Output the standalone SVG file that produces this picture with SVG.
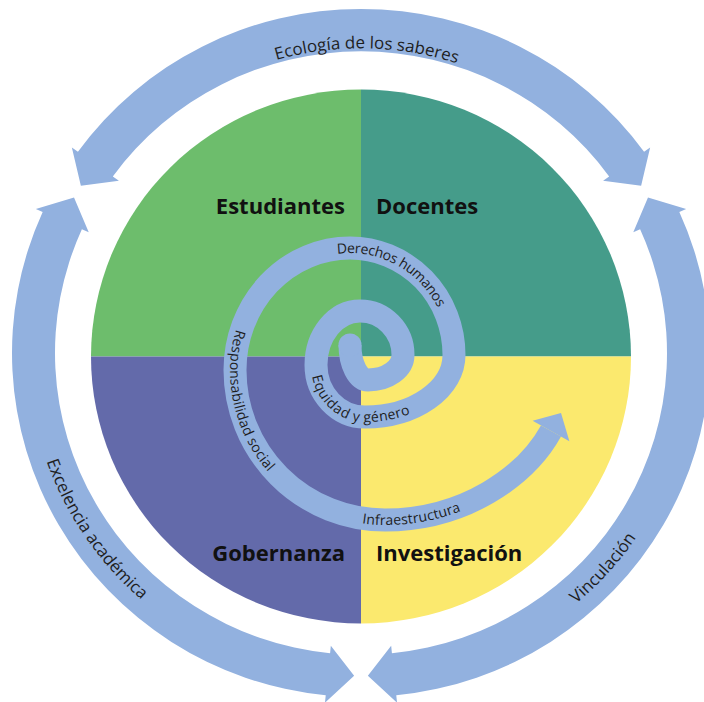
<svg xmlns="http://www.w3.org/2000/svg" xmlns:xlink="http://www.w3.org/1999/xlink" width="704" height="702" viewBox="0 0 704 702">
<style>
.blue{fill:#92b1df}
.rt{font-family:"Open Sans","Liberation Sans",sans-serif;font-size:17px;fill:#1e1e1e}
.q{font-family:"Open Sans","Liberation Sans",sans-serif;font-size:22px;font-weight:700;fill:#111}
.st{font-family:"Open Sans","Liberation Sans",sans-serif;font-size:14px;fill:#1e1e1e}
</style>
<defs>
<path id="tpTop" d="M -232.86 -203.14 A 309 309 0 0 1 240.46 -194.05"/>
<path id="tpLeft" d="M -332.19 23.23 A 333 333 0 0 0 -145.98 299.30"/>
<path id="tpRight" d="M 166.5 288.39 A 333 333 0 0 0 304.21 135.44"/>
<path id="tpDer" d="M 235 370 A 115 122 0 0 1 350 248 A 104 107 0 0 1 454 355"/>
<path id="tpRes" d="M 350 248 A 115 122 0 0 0 235 370 A 150 150 0 0 0 385 520"/>
<path id="tpEq" d="M 360 311 A 44 54 0 0 0 316 365 A 49 52 0 0 0 365 417 A 89 62 0 0 0 454 355"/>
<path id="tpInf" d="M 235 370 A 150 150 0 0 0 385 520 C 465 520 526 476 551 431"/>
</defs>
<rect width="704" height="702" fill="#ffffff"/>
<g id="quadrants">
<g id="q-estudiantes"><path d="M 361 356.5 L 91 356.5 A 270 267 0 0 1 361 89.5 Z" fill="#6dbd6c"/><text class="q" x="345" y="214" text-anchor="end">Estudiantes</text></g>
<g id="q-docentes"><path d="M 361 356.5 L 361 89.5 A 270 267 0 0 1 631 356.5 Z" fill="#459c8a"/><text class="q" x="376" y="214">Docentes</text></g>
<g id="q-investigacion"><path d="M 361 356.5 L 631 356.5 A 270 267 0 0 1 361 623.5 Z" fill="#fbe96e"/><text class="q" x="376" y="561">Investigación</text></g>
<g id="q-gobernanza"><path d="M 361 356.5 L 361 623.5 A 270 267 0 0 1 91 356.5 Z" fill="#636aaa"/><text class="q" x="345" y="561" text-anchor="end">Gobernanza</text></g>
</g>
<g id="connectors">
<g id="ring" transform="translate(361,353) scale(1,0.986)">
<g id="arrow-excelencia">
<path class="blue" d="M -6.86 327.43 L -36.03 354.67 L -35.27 347.21 A 349 349 0 0 1 -318.33 -143.06 L -325.17 -146.14 L -286.99 -157.77 L -272.27 -122.36 L -279.11 -125.44 A 306 306 0 0 0 -30.92 304.43 L -30.17 296.97 Z"/>
<text class="rt"><textPath xlink:href="#tpLeft" href="#tpLeft" startOffset="50%" text-anchor="middle">Excelencia académica</textPath></text>
</g>
<g id="arrow-ecologia">
<path class="blue" d="M -280.13 -169.65 L -289.14 -208.54 L -283.06 -204.15 A 349 349 0 0 1 283.06 -204.15 L 289.14 -208.54 L 280.13 -169.65 L 242.10 -174.61 L 248.18 -179.0 A 306 306 0 0 0 -248.18 -179.0 L -242.10 -174.61 Z"/>
<text class="rt"><textPath xlink:href="#tpTop" href="#tpTop" startOffset="50%" text-anchor="middle">Ecología de los saberes</textPath></text>
</g>
<g id="arrow-vinculacion">
<path class="blue" d="M 286.99 -157.77 L 325.17 -146.14 L 318.33 -143.06 A 349 349 0 0 1 35.27 347.21 L 36.03 354.67 L 6.86 327.43 L 30.17 296.97 L 30.92 304.43 A 306 306 0 0 0 279.11 -125.44 L 272.27 -122.36 Z"/>
<text class="rt"><textPath xlink:href="#tpRight" href="#tpRight" startOffset="50%" text-anchor="middle">Vinculación</textPath></text>
</g>
</g>
<g id="spiral">
<path d="M 350 345 A 18 35 0 0 0 368 380 A 35 25 0 0 0 403 355 A 43 44 0 0 0 360 311 A 44 54 0 0 0 316 365 A 49 52 0 0 0 365 417 A 89 62 0 0 0 454 355 A 104 107 0 0 0 350 248 A 115 122 0 0 0 235 370 A 150 150 0 0 0 385 520 C 465 520 526 476 551 431" fill="none" stroke="#92b1df" stroke-width="23"/>
<circle cx="350" cy="345" r="11.5" fill="#92b1df"/>
<path class="blue" d="M 569.4 441.2 L 561 413 L 532.6 420.8 Z"/>
<text class="st" dy="5"><textPath xlink:href="#tpDer" href="#tpDer" startOffset="173">Derechos humanos</textPath></text>
<text class="st" dy="5"><textPath xlink:href="#tpRes" href="#tpRes" startOffset="146">Responsabilidad social</textPath></text>
<text class="st" dy="5"><textPath xlink:href="#tpEq" href="#tpEq" startOffset="87">Equidad y género</textPath></text>
<text class="st" dy="5"><textPath xlink:href="#tpInf" href="#tpInf" startOffset="213">Infraestructura</textPath></text>
</g>
</g>
</svg>
